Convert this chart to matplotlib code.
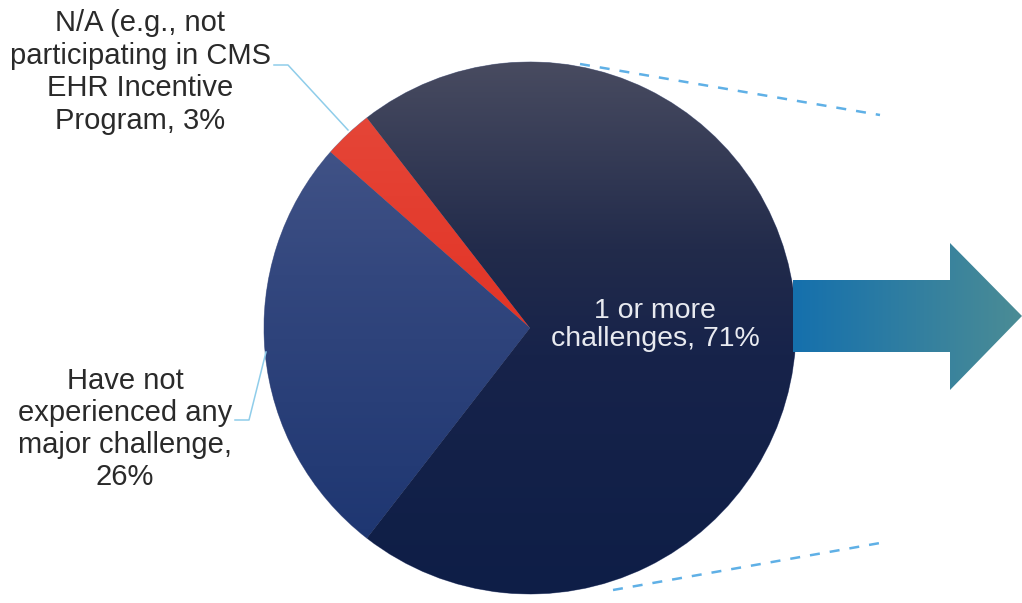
import matplotlib
matplotlib.use('Agg')
import matplotlib.pyplot as plt
import numpy as np
from matplotlib.colors import LinearSegmentedColormap
from matplotlib.patches import Polygon

plt.rcParams['font.family'] = ['Liberation Sans', 'DejaVu Sans']

# survey shares, in drawing order (counter-clockwise from the red wedge)
labels = ['N/A (e.g., not\nparticipating in CMS\nEHR Incentive\nProgram, 3%',
          'Have not\nexperienced any\nmajor challenge,\n26%',
          '1 or more\nchallenges, 71%']
shares = [3, 26, 71]
# gradient stops (top -> bottom) for each wedge
wedge_grads = [[(0, '#e64a3c'), (1, '#de1e10')],
               [(0, '#4a5a8c'), (0.4, '#33477e'), (1, '#1a336f')],
               [(0, '#484b60'), (0.35, '#222b4b'), (0.55, '#17234a'), (1, '#0e1e47')]]

W, H = 1022, 603
cx, cy, R = 530, H - 328, 266


def grad_fill(ax, patch, stops, extent, vertical=True):
    # paint a linear gradient and clip it to the patch
    cmap = LinearSegmentedColormap.from_list('g', stops)
    g = np.linspace(0, 1, 256)
    img = g[:, None] if vertical else g[None, :]
    im = ax.imshow(img, cmap=cmap, extent=extent, origin='upper',
                   aspect='auto', interpolation='bilinear', zorder=patch.get_zorder() + 0.1)
    im.set_clip_path(patch)
    return im


fig = plt.figure(figsize=(W / 100, H / 100), dpi=100)
ax = fig.add_axes([0, 0, 1, 1])

wedges, _ = ax.pie(shares, center=(cx, cy), radius=R, startangle=127.8,
                   counterclock=True, colors=[s[-1][1] for s in wedge_grads],
                   wedgeprops=dict(edgecolor='#8a93b0', linewidth=0.6))
for w, stops in zip(wedges, wedge_grads):
    grad_fill(ax, w, stops, (cx - R, cx + R, cy - R, cy + R))

# big arrow pointing right
arrow_pts = np.array([[793, 280], [950, 280], [950, 243], [1022, 316],
                      [950, 390], [950, 352], [793, 352]], dtype=float)
arrow_pts[:, 1] = H - arrow_pts[:, 1]
arrow = Polygon(arrow_pts, closed=True, facecolor='none', edgecolor='none', zorder=1)
ax.add_patch(arrow)
grad_fill(ax, arrow, [(0, '#1570ad'), (1, '#4b8c95')],
          (793, 1022, H - 390, H - 243), vertical=False)

# dashed lines fanning out toward the right
ax.plot([580, 880], [H - 64, H - 115], ls=(0, (4, 4)), color='#5fb0e6', lw=1.8, zorder=3)
ax.plot([613, 880], [H - 590, H - 543], ls=(0, (4, 4)), color='#5fb0e6', lw=1.8, zorder=3)

# leader lines for the outside labels
lead = '#8fcdea'
ax.plot([274, 288, 348], [H - 65, H - 65, H - 130], color=lead, lw=1.1, zorder=3)
ax.plot([235, 249, 266], [H - 420, H - 420, H - 352], color=lead, lw=1.1, zorder=3)

ax.text(140, H - 72, labels[0], ha='center', va='center', fontsize=21,
        color='#2a2a2a', linespacing=1.2)
ax.text(125, H - 429, labels[1], ha='center', va='center', fontsize=21,
        color='#2a2a2a', linespacing=1.17)
ax.text(655, H - 325, labels[2], ha='center', va='center', fontsize=20.5,
        color='#e8eaf0', linespacing=1.15, zorder=5)

ax.set_xlim(0, W)
ax.set_ylim(0, H)
ax.set_aspect('equal')
ax.axis('off')

fig.savefig('out.png', dpi=100)
